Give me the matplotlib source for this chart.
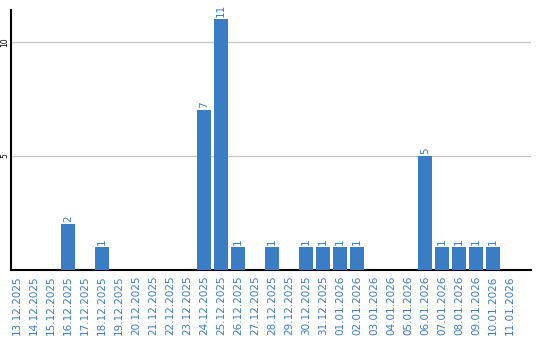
import matplotlib
matplotlib.use("Agg")
import matplotlib.pyplot as plt

dates = ["13.12.2025", "14.12.2025", "15.12.2025", "16.12.2025", "17.12.2025",
         "18.12.2025", "19.12.2025", "20.12.2025", "21.12.2025", "22.12.2025",
         "23.12.2025", "24.12.2025", "25.12.2025", "26.12.2025", "27.12.2025",
         "28.12.2025", "29.12.2025", "30.12.2025", "31.12.2025", "01.01.2026",
         "02.01.2026", "03.01.2026", "04.01.2026", "05.01.2026", "06.01.2026",
         "07.01.2026", "08.01.2026", "09.01.2026", "10.01.2026", "11.01.2026"]
counts = [0, 0, 0, 2, 0, 1, 0, 0, 0, 0,
          0, 7, 11, 1, 0, 1, 0, 1, 1, 1,
          1, 0, 0, 0, 5, 1, 1, 1, 1, 0]

blue = "#3b7dc4"

fig = plt.figure(figsize=(5.4, 3.4), dpi=100)
ax = fig.add_axes([10.5 / 540, 70 / 340, 520 / 540, 260 / 340])

x = range(len(dates))
ax.bar(x, counts, width=0.82, color=blue, zorder=3)
for i, v in enumerate(counts):
    if v > 0:
        ax.text(i, v + 0.1, str(v), rotation=90, ha="center", va="bottom",
                color=blue, fontsize=7.5)

ax.set_xlim(-0.38, 30.2)
ax.set_ylim(0, 11.4)
ax.set_yticks([5, 10])
ax.set_yticklabels(["5", "10"], rotation=90, va="center", fontsize=5.5)
ax.set_xticks(list(x))
ax.set_xticklabels(dates, rotation=90, color=blue, fontsize=7.5)
ax.tick_params(axis="x", length=0, pad=4)
ax.tick_params(axis="y", length=0, pad=1)
ax.grid(axis="y", color="#c8c8c8", linewidth=1, zorder=0)
for s in ["top", "right"]:
    ax.spines[s].set_visible(False)
ax.spines["left"].set_linewidth(1.5)
ax.spines["bottom"].set_linewidth(1.5)

fig.savefig("out.png", dpi=100)
